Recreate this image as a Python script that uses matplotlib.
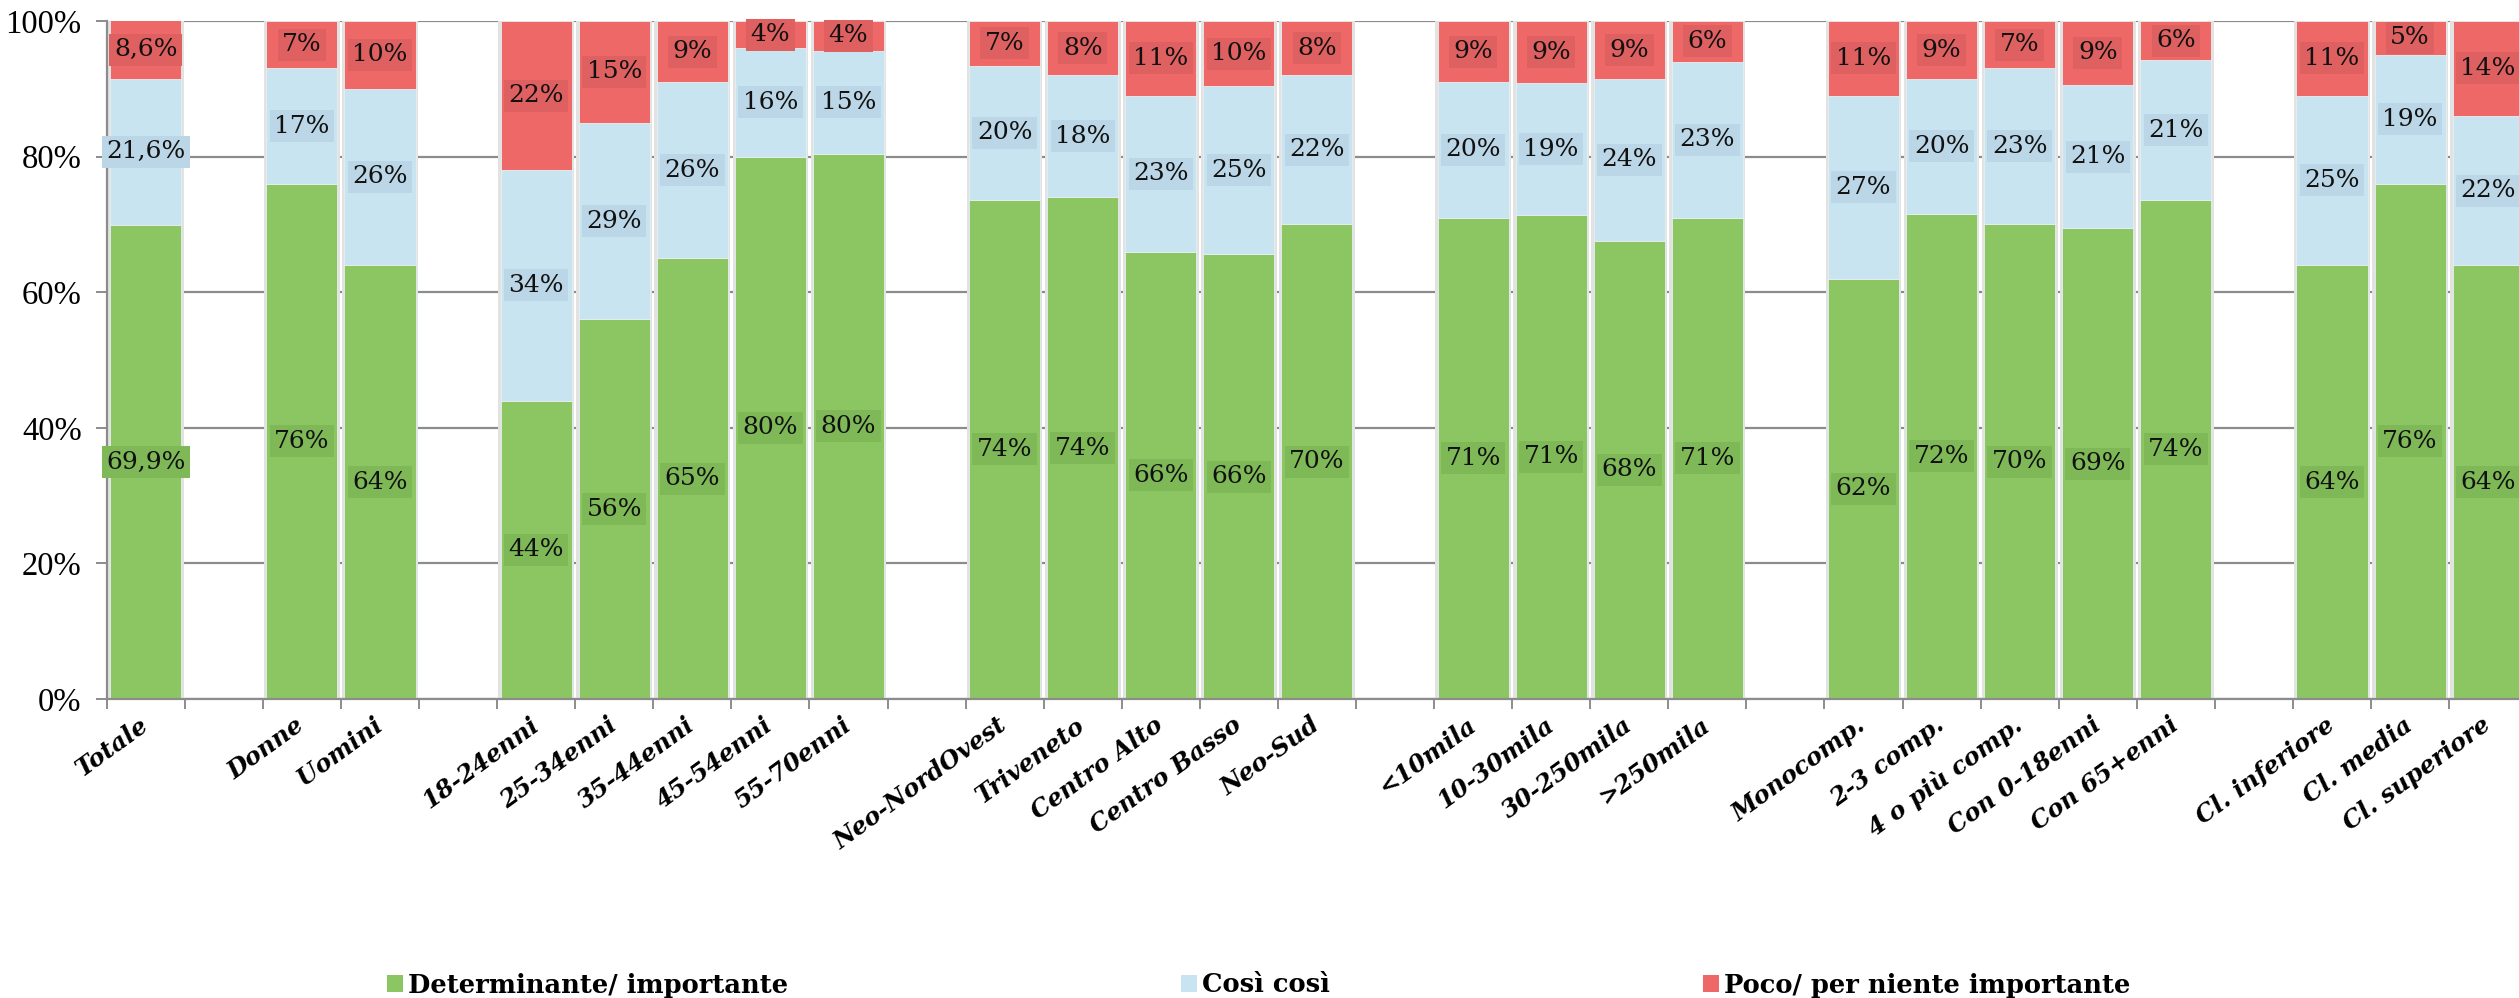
import matplotlib
matplotlib.use('Agg')
import matplotlib.pyplot as plt
from matplotlib.patches import Patch
import numpy as np

nan = np.nan
categories = ['Totale', '', 'Donne', 'Uomini', '',
              '18-24enni', '25-34enni', '35-44enni', '45-54enni', '55-70enni', '',
              'Neo-NordOvest', 'Triveneto', 'Centro Alto', 'Centro Basso', 'Neo-Sud', '',
              '<10mila', '10-30mila', '30-250mila', '>250mila', '',
              'Monocomp.', '2-3 comp.', '4 o più comp.', 'Con 0-18enni', 'Con 65+enni', '',
              'Cl. inferiore', 'Cl. media', 'Cl. superiore']
determinante = [69.9, nan, 76, 64, nan, 44, 56, 65, 80, 80.4, nan, 73.6, 74, 66, 65.6, 70, nan,
                71, 71.4, 67.6, 71, nan, 62, 71.6, 70, 69.4, 73.6, nan, 64, 76, 64]
cosi = [21.6, nan, 17, 26, nan, 34, 29, 26, 16, 15.2, nan, 19.8, 18, 23, 24.8, 22, nan,
        20, 19.4, 23.8, 23, nan, 27, 19.8, 23, 21.2, 20.6, nan, 25, 19, 22]
poco = [8.6, nan, 7, 10, nan, 22, 15, 9, 4, 4.4, nan, 6.6, 8, 11, 9.6, 8, nan,
        9, 9.2, 8.6, 6, nan, 11, 8.6, 7, 9.4, 5.8, nan, 11, 5, 14]
decimals = [1] + [0] * 30
series_names = ['Determinante/ importante', 'Così così', 'Poco/ per niente importante']
yticks = [0, 20, 40, 60, 80, 100]

colors = ['#8CC663', '#C9E4F1', '#EF6868']
label_bg = ['#7FB957', '#BBD6E6', '#DF6060']

W, H = 2519, 998
fig = plt.figure(figsize=(W / 100, H / 100), dpi=100)
ax = fig.add_axes([106.7 / W, (H - 699) / H, (31 * 78.08) / W, (699 - 21) / H])

x = np.arange(len(categories))
series = [np.array(determinante, float), np.array(cosi, float), np.array(poco, float)]
valid = ~np.isnan(series[0])
tot = np.nansum(np.vstack(series), axis=0)

# soft shadow behind bars
ax.bar(x[valid], np.minimum(tot[valid], 100), width=0.97, color='#E2E2E2', zorder=1.5, linewidth=0)

bottom = np.zeros(len(categories))
for s, col, bg in zip(series, colors, label_bg):
    vals = np.where(np.isnan(s), 0, s)
    ax.bar(x[valid], vals[valid], bottom=bottom[valid], width=0.91, color=col,
           edgecolor='#E8EEF0', linewidth=0.6, zorder=2)
    for i in x[valid]:
        d = decimals[i]
        txt = f"{s[i]:.{d}f}%".replace('.', ',')
        top = min(bottom[i] + vals[i], 100)
        yc = (bottom[i] + top) / 2
        ax.text(i, yc, txt, ha='center', va='center', fontsize=18, family='DejaVu Serif',
                color='#111111', zorder=4,
                bbox=dict(boxstyle='square,pad=0.18', fc=bg, ec='none'))
    bottom = bottom + vals

ax.set_xlim(-0.5, len(categories) - 0.5)
ax.set_ylim(0, 100)
ax.set_yticks(yticks)
ax.set_yticklabels([f"{v}%" for v in yticks], family='Liberation Serif', fontsize=23.5)
ax.yaxis.grid(True, color='#8C8C8C', linewidth=1.6, zorder=1)
ax.set_axisbelow(True)

ax.set_xticks(np.arange(-0.5, len(categories), 1))
ax.set_xticklabels([])
ax.set_xticks(x, minor=True)
ax.set_xticklabels(categories, minor=True, rotation=36, ha='right', va='center',
                   rotation_mode='anchor',
                   family='DejaVu Serif', fontweight='bold', fontstyle='italic', fontsize=17.5)
ax.tick_params(axis='x', which='major', length=7, width=1.4, color='#8C8C8C')
ax.tick_params(axis='x', which='minor', length=0, pad=17)
ax.tick_params(axis='y', length=8, width=1.4, color='#8C8C8C', pad=10)

for sp in ['top', 'right']:
    ax.spines[sp].set_visible(False)
for sp in ['left', 'bottom']:
    ax.spines[sp].set_color('#8C8C8C')
    ax.spines[sp].set_linewidth(1.6)

leg_x = [387, 1181, 1703]
for name, col, lx in zip(series_names, colors, leg_x):
    fig.legend(handles=[Patch(facecolor=col, edgecolor='none', label=name)],
               loc='center left', bbox_to_anchor=(lx / W, 1 - 985 / H),
               frameon=False, handlelength=0.62, handleheight=0.62, handletextpad=0.2,
               borderpad=0, borderaxespad=0,
               prop=dict(family='DejaVu Serif', weight='bold', size=18.5))

fig.savefig('out.png', dpi=100)
